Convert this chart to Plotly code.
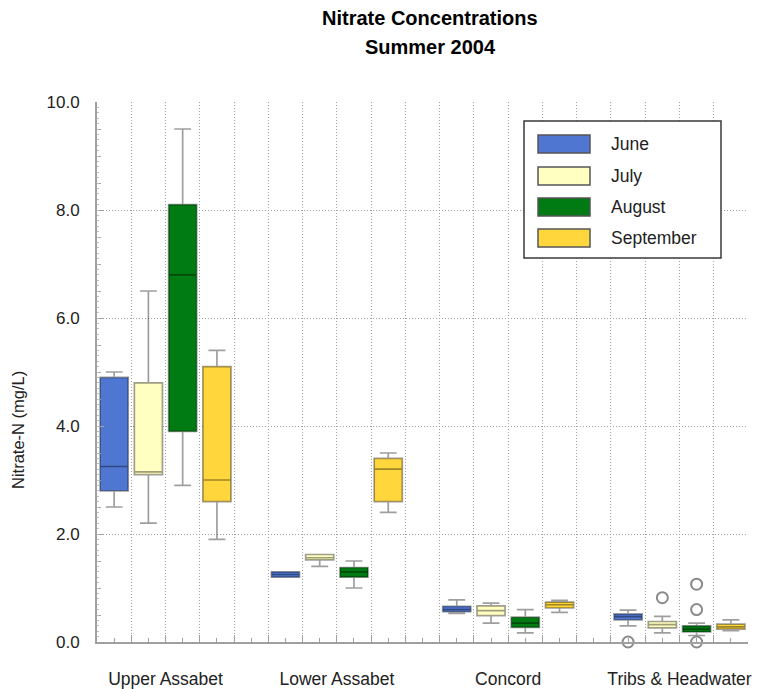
import plotly.graph_objects as go

# ---------------- data ----------------
sites = ["Upper Assabet", "Lower Assabet", "Concord", "Tribs & Headwater"]
months = ["June", "July", "August", "September"]
colors = ["#4F76D0", "#FFFFC2", "#007A12", "#FFD73C"]

# per month: values for each site (lower whisker, q1, median, q3, upper whisker)
lower = {
    "June":      [2.5, 1.20, 0.53, 0.30],
    "July":      [2.2, 1.40, 0.35, 0.17],
    "August":    [2.9, 1.00, 0.17, 0.12],
    "September": [1.9, 2.40, 0.55, 0.21],
}
q1 = {
    "June":      [2.8, 1.20, 0.56, 0.41],
    "July":      [3.1, 1.52, 0.49, 0.26],
    "August":    [3.9, 1.20, 0.27, 0.185],
    "September": [2.6, 2.60, 0.63, 0.24],
}
median = {
    "June":      [3.25, 1.25, 0.60, 0.47],
    "July":      [3.15, 1.56, 0.58, 0.32],
    "August":    [6.8, 1.30, 0.35, 0.24],
    "September": [3.0, 3.20, 0.69, 0.28],
}
q3 = {
    "June":      [4.9, 1.30, 0.66, 0.52],
    "July":      [4.8, 1.62, 0.67, 0.38],
    "August":    [8.1, 1.38, 0.46, 0.30],
    "September": [5.1, 3.40, 0.74, 0.33],
}
upper = {
    "June":      [5.0, 1.30, 0.78, 0.59],
    "July":      [6.5, 1.62, 0.72, 0.475],
    "August":    [9.5, 1.50, 0.60, 0.35],
    "September": [5.4, 3.50, 0.77, 0.41],
}
# outliers (Tribs & Headwater)
outlier_month = ["June", "July", "August", "August", "August"]
outlier_site = ["Tribs & Headwater"] * 5
outlier_value = [0.0, 0.82, 1.07, 0.60, 0.0]

y_ticks = [0, 2, 4, 6, 8, 10]

# ---------------- layout helpers ----------------
W, H = 759, 689
L, R, T, B = 97, 11, 102, 47
PW, PH = W - L - R, H - T - B


def px(xp):
    return (xp - L) / PW


def py(yp):
    return (H - B - yp) / PH


n_months = len(months)
slot = n_months + 1  # one empty slot between sites


def xpos(site, month):
    return sites.index(site) * slot + months.index(month)


fig = go.Figure()

for mi, m in enumerate(months):
    fig.add_trace(go.Box(
        x=[si * slot + mi for si in range(len(sites))],
        lowerfence=lower[m], q1=q1[m], median=median[m], q3=q3[m],
        upperfence=upper[m],
        name=m, fillcolor=colors[mi],
        line=dict(color="rgba(0,0,0,0.38)", width=1.7),
        whiskerwidth=0.6, width=0.82, boxpoints=False,
        showlegend=False, hoverinfo="skip",
    ))

fig.add_trace(go.Scatter(
    x=[xpos(s, m) for s, m in zip(outlier_site, outlier_month)],
    y=outlier_value, mode="markers", cliponaxis=False,
    marker=dict(symbol="circle-open", size=11,
                line=dict(color="#8a8a8a", width=2), color="#8a8a8a"),
    showlegend=False, hoverinfo="skip",
))

# fine 0.1 tick comb on the y axis
fig.add_trace(go.Scatter(x=[None], y=[None], yaxis="y2", showlegend=False))

n_slots = len(sites) * slot - 1
bounds = [b - 0.5 for b in range(n_slots + 1)]
centers = list(range(n_slots))
group_centers = {si * slot + (n_months - 1) / 2: s for si, s in enumerate(sites)}
tick_text = [group_centers.get(b, "") for b in bounds]

axis_color = "#a0a0a0"
grid_color = "#a0a0a0"
font_fam = "Liberation Sans, Arial, sans-serif"

fig.update_layout(
    width=W, height=H,
    margin=dict(l=L, r=R, t=T, b=B, autoexpand=False),
    paper_bgcolor="white", plot_bgcolor="white",
    font=dict(family=font_fam, size=14, color="#222"),
    xaxis=dict(
        range=[-0.5, n_slots - 0.5], automargin=False,
        tickmode="array", tickvals=bounds, ticktext=tick_text,
        ticks="inside", ticklen=7, tickcolor=axis_color, tickwidth=1,
        ticklabelstandoff=20,
        showgrid=True, gridcolor=grid_color, griddash="1px,2px", gridwidth=1,
        showline=True, linecolor=axis_color, linewidth=2,
        zeroline=False,
        minor=dict(tickmode="array", tickvals=centers, ticks="inside",
                   ticklen=4, tickcolor=axis_color, showgrid=False),
        tickfont=dict(size=17.5, color="#222"),
    ),
    yaxis=dict(
        range=[0, 10], tickmode="array", tickvals=y_ticks, automargin=False,
        tickformat=".1f",
        ticks="inside", ticklen=7, tickcolor=axis_color,
        ticklabelstandoff=12,
        showgrid=True, gridcolor=grid_color, griddash="1px,2px", gridwidth=1,
        showline=True, linecolor=axis_color, linewidth=2,
        zeroline=False,
        minor=dict(dtick=0.5, ticks="inside", ticklen=4,
                   tickcolor=axis_color, showgrid=False),
        tickfont=dict(size=17, color="#222"),
    ),
    yaxis2=dict(
        range=[0, 10], overlaying="y", side="left", anchor="x", automargin=False,
        dtick=0.1, ticks="inside", ticklen=2, tickcolor="#c0c0c0",
        showticklabels=False, showgrid=False, zeroline=False, showline=False,
    ),
    showlegend=False,
)

# titles
fig.add_annotation(text="<b>Nitrate Concentrations</b>", xref="paper", yref="paper",
                   x=px(430), y=py(18), xanchor="center", yanchor="middle",
                   showarrow=False, font=dict(size=20, color="#000"))
fig.add_annotation(text="<b>Summer 2004</b>", xref="paper", yref="paper",
                   x=px(430), y=py(47), xanchor="center", yanchor="middle",
                   showarrow=False, font=dict(size=20, color="#000"))
fig.add_annotation(text="Nitrate-N (mg/L)", xref="paper", yref="paper",
                   x=px(18), y=py(430), xanchor="center", yanchor="middle",
                   showarrow=False, textangle=-90,
                   font=dict(size=16.5, color="#222"))

# legend panel
fig.add_shape(type="rect", xref="paper", yref="paper",
              x0=px(524), x1=px(721), y0=py(258), y1=py(121),
              line=dict(color="#3a3a3a", width=1.5), fillcolor="white", layer="above")
row_y = [144, 176, 207, 238]
for mi, m in enumerate(months):
    yc = row_y[mi]
    fig.add_shape(type="rect", xref="paper", yref="paper",
                  x0=px(538), x1=px(590), y0=py(yc + 9), y1=py(yc - 9),
                  line=dict(color="#555", width=1.5), fillcolor=colors[mi], layer="above")
    fig.add_annotation(text=m, xref="paper", yref="paper", x=px(609), y=py(yc),
                       xanchor="left", yanchor="middle", showarrow=False,
                       font=dict(size=17.5, color="#222"))

fig.write_html("out.html",
               config={"displayModeBar": False},
               post_script="document.body.style.margin='0';"
                           "document.body.style.overflow='hidden';")
